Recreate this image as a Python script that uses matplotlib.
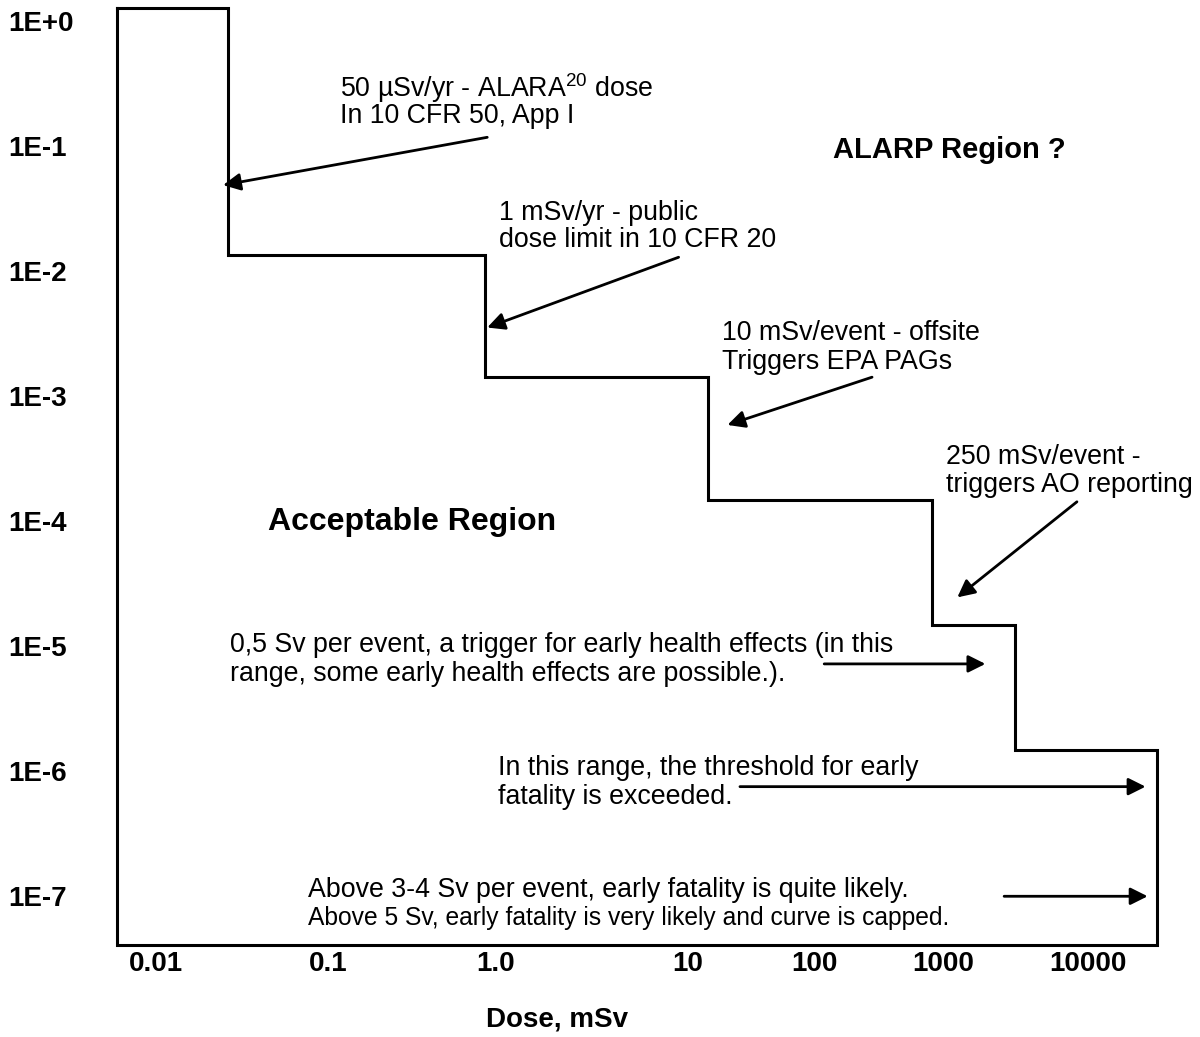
import numpy as np
import matplotlib
matplotlib.use("Agg")
import matplotlib.pyplot as plt
from matplotlib.ticker import NullLocator

plt.rcParams['font.family'] = ['Liberation Sans', 'DejaVu Sans']
plt.rcParams['mathtext.fontset'] = 'custom'
plt.rcParams['mathtext.rm'] = 'Liberation Sans'
plt.rcParams['mathtext.it'] = 'Liberation Sans'

# Tick values and labels
dose_ticks = [0.01, 0.1, 1.0, 10, 100, 1000, 10000]
dose_tick_labels = ["0.01", "0.1", "1.0", "10", "100", "1000", "10000"]
freq_ticks = [1, 1e-1, 1e-2, 1e-3, 1e-4, 1e-5, 1e-6, 1e-7]
freq_tick_labels = ["1E+0", "1E-1", "1E-2", "1E-3", "1E-4", "1E-5", "1E-6", "1E-7"]

# Step curve (dose in mSv where each step drops, frequency level before the drop)
step_dose = [0.026, 0.87, 14.6, 820, 3140, 29900]
step_freq = [1.27, 1.34e-2, 1.42e-3, 1.47e-4, 1.47e-5, 1.47e-6]
dose_min = 0.0059
freq_min = 4.06e-8

# The dose axis in the original is hand drawn: decades are not evenly spaced.
# Piecewise log scale through the drawn label positions.
decade_log = np.log10(dose_ticks)
decade_pos = np.array([156, 328, 495, 687, 814, 943, 1088], dtype=float)


def dose_fwd(x):
    lx = np.log10(np.clip(np.asarray(x, dtype=float), 1e-300, None))
    u = np.interp(lx, decade_log, decade_pos)
    lo_slope = decade_pos[1] - decade_pos[0]
    hi_slope = decade_pos[-1] - decade_pos[-2]
    u = np.where(lx < decade_log[0], decade_pos[0] + (lx - decade_log[0]) * lo_slope, u)
    u = np.where(lx > decade_log[-1], decade_pos[-1] + (lx - decade_log[-1]) * hi_slope, u)
    return u


def dose_inv(u):
    u = np.asarray(u, dtype=float)
    lx = np.interp(u, decade_pos, decade_log)
    lo_slope = decade_pos[1] - decade_pos[0]
    hi_slope = decade_pos[-1] - decade_pos[-2]
    lx = np.where(u < decade_pos[0], decade_log[0] + (u - decade_pos[0]) / lo_slope, lx)
    lx = np.where(u > decade_pos[-1], decade_log[-1] + (u - decade_pos[-1]) / hi_slope, lx)
    return 10.0 ** lx


# closed outline: left edge, top, the steps, right edge, bottom
xs = [dose_min]
ys = [step_freq[0]]
for i, d in enumerate(step_dose):
    nxt = step_freq[i + 1] if i + 1 < len(step_freq) else freq_min
    xs += [d, d]
    ys += [step_freq[i], nxt]
xs += [dose_min, dose_min]
ys += [freq_min, step_freq[0]]

fig = plt.figure(figsize=(12, 10.37), dpi=100)
ax = fig.add_axes([117 / 1200, (1037 - 945) / 1037, 1040 / 1200, 937 / 1037])

ax.set_xscale('function', functions=(dose_fwd, dose_inv))
ax.set_yscale('log')
ax.plot(xs, ys, color='black', lw=2.2, clip_on=False, solid_joinstyle='miter')
ax.set_xlim(dose_min, step_dose[-1])
ax.set_ylim(freq_min, step_freq[0])

ax.set_xticks(dose_ticks)
ax.set_xticklabels(dose_tick_labels, fontsize=20, fontweight='bold')
ax.set_yticks(freq_ticks)
ax.set_yticklabels(freq_tick_labels, fontsize=20, fontweight='bold')
ax.xaxis.set_minor_locator(NullLocator())
ax.yaxis.set_minor_locator(NullLocator())
ax.tick_params(axis='x', length=0, pad=4)
ax.tick_params(axis='y', length=0, pad=78)
for lab in ax.get_yticklabels():
    lab.set_horizontalalignment('left')
for s in ax.spines.values():
    s.set_visible(False)

fig.text(0.464, 0.0164, "Dose, mSv", fontsize=20, fontweight='bold', ha='center', va='center')

# Region labels
ax.text(0.6885, 0.848, "ALARP Region ?", transform=ax.transAxes, fontsize=21,
        fontweight='bold', va='center')
ax.text(0.1452, 0.451, "Acceptable Region", transform=ax.transAxes, fontsize=23,
        fontweight='bold', va='center')

# Annotation text lines
notes = [
    (0.214, 0.915, r"50 µSv/yr - ALARA$^{\mathrm{20}}$ dose", 19.3),
    (0.214, 0.885, "In 10 CFR 50, App I", 19.3),
    (0.367, 0.781, "1 mSv/yr - public", 19.3),
    (0.367, 0.752, "dose limit in 10 CFR 20", 19.3),
    (0.582, 0.653, "10 mSv/event - offsite", 19.3),
    (0.582, 0.622, "Triggers EPA PAGs", 19.3),
    (0.797, 0.521, "250 mSv/event -", 19.3),
    (0.797, 0.491, "triggers AO reporting", 19.3),
    (0.109, 0.320, "0,5 Sv per event, a trigger for early health effects (in this", 19.3),
    (0.109, 0.289, "range, some early health effects are possible.).", 19.3),
    (0.366, 0.189, "In this range, the threshold for early", 19.3),
    (0.366, 0.158, "fatality is exceeded.", 19.3),
    (0.184, 0.059, "Above 3-4 Sv per event, early fatality is quite likely.", 19.3),
    (0.184, 0.029, "Above 5 Sv, early fatality is very likely and curve is capped.", 17.7),
]
for x, y, s, fs in notes:
    ax.text(x, y, s, transform=ax.transAxes, fontsize=fs, va='center', ha='left')

# Arrows (tail -> tip)
arrows = [
    ((0.356, 0.862), (0.102, 0.811)),
    ((0.540, 0.734), (0.356, 0.659)),
    ((0.726, 0.606), (0.587, 0.555)),
    ((0.923, 0.473), (0.808, 0.371)),
    ((0.680, 0.300), (0.835, 0.300)),
    ((0.599, 0.169), (0.989, 0.169)),
    ((0.853, 0.052), (0.991, 0.052)),
]
for tail, tip in arrows:
    ax.annotate("", xy=tip, xytext=tail, xycoords='axes fraction', textcoords='axes fraction',
                arrowprops=dict(arrowstyle='-|>', color='black', lw=2, mutation_scale=26,
                                shrinkA=0, shrinkB=0))

fig.savefig("out.png", dpi=100)
